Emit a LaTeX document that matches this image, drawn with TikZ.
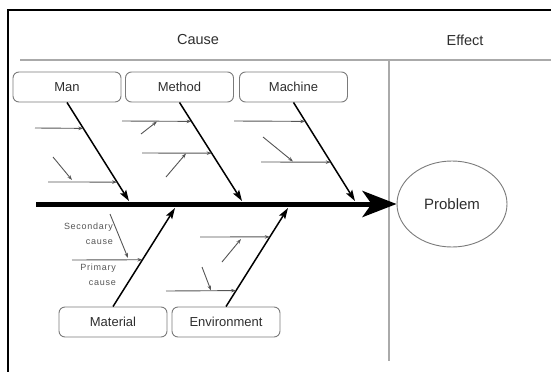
\documentclass[tikz,border=0pt]{standalone}
\usepackage{fontspec}
\setmainfont{Liberation Sans}
\newfontfamily\notefont[LetterSpace=8]{Liberation Sans}
\usetikzlibrary{arrows.meta,calc,shapes.geometric}
\definecolor{inkgray}{HTML}{2E2E2E}
\definecolor{rulegray}{HTML}{AAAAAA}
\definecolor{boxgray}{HTML}{7A7A7A}
\definecolor{subgray}{HTML}{555555}
\tikzset{
  header/.style={font=\fontsize{14.5}{17}\selectfont, text=inkgray},
  catbox/.style={draw=boxgray, line width=0.9pt, rounded corners=6pt,
    minimum width=108pt, minimum height=30pt, inner sep=0pt,
    font=\fontsize{13}{15}\selectfont, text=inkgray},
  bone/.style={draw=black, line width=1.5pt, -{Stealth[length=11pt,width=7pt,inset=2pt]}},
  subarrow/.style={draw=subgray, line width=0.9pt, -{Stealth[length=5pt,width=3.5pt]}},
  note/.style={font=\notefont\fontsize{9}{15}\selectfont, text=subgray, align=right, inner sep=0pt},
}
\begin{document}
\begin{tikzpicture}[x=1pt,y=-1pt]
\useasboundingbox (0,0) rectangle (551,372);

% outer frame
\draw[line width=2pt] (551,10) -- (8,10) -- (8,372);

% header rule and cause/effect divider
\draw[rulegray, line width=1.4pt] (20,60) -- (551,60);
\draw[rulegray, line width=1.4pt] (389,60) -- (389,361);
\node[header] (cause) at (198,40) {Cause};
\node[header] (effect) at (465,40) {Effect};

% effect
\node[draw=boxgray, line width=0.9pt, ellipse, minimum width=110pt, minimum height=86pt,
      inner sep=0pt, font=\fontsize{15}{17}\selectfont, text=inkgray] (problem) at (452,204) {Problem};

% spine
\coordinate (tail) at (36,204);
\draw[line width=5pt, -{Stealth[length=34pt,width=26pt,inset=9pt]}] (tail) -- (problem.west);

% category boxes
\node[catbox] (man) at (67,87) {Man};
\node[catbox] (method) at (179.5,87) {Method};
\node[catbox] (machine) at (293.5,87) {Machine};
\node[catbox] (material) at (113,322) {Material};
\node[catbox] (environment) at (226,322) {Environment};

% where the bones meet the spine
\coordinate (manT) at (129,201);
\coordinate (methodT) at (242,201);
\coordinate (machineT) at (355,201);
\coordinate (materialT) at (175,208);
\coordinate (environmentT) at (288,208);

% main bones
\draw[bone] (man.south) -- (manT);
\draw[bone] (method.south) -- (methodT);
\draw[bone] (machine.south) -- (machineT);
\draw[bone] (material.north) -- (materialT);
\draw[bone] (environment.north) -- (environmentT);

% man causes
\coordinate (m1) at (35,128);
\coordinate (m2) at (48,182);
\coordinate (m2s) at (53,157);
\draw[subarrow] (m1) -- ($(man.south)!0.263!(manT)$);
\draw[subarrow] (m2) -- ($(man.south)!0.808!(manT)$);
\draw[subarrow] (m2s) -- (72,180);

% method causes
\coordinate (d1) at (122,121);
\coordinate (d2) at (142,153);
\draw[subarrow] (d1) -- ($(method.south)!0.192!(methodT)$);
\draw[subarrow] (d2) -- ($(method.south)!0.515!(methodT)$);
\draw[subarrow] (141,134) -- (157,121.5);
\draw[subarrow] (166,177) -- (186,153.5);

% machine causes
\coordinate (c1) at (234,121);
\coordinate (c2) at (261,162);
\draw[subarrow] (c1) -- ($(machine.south)!0.192!(machineT)$);
\draw[subarrow] (c2) -- ($(machine.south)!0.606!(machineT)$);
\draw[subarrow] (263,137) -- (293,161.5);

% material causes with their labels
\coordinate (t1) at (72,260);
\draw[subarrow] (t1) -- ($(material.north)!0.475!(materialT)$);
\draw[subarrow] (110,214) -- (128,258);
\node[note, anchor=north east] (secondary) at (113,223) {Secondary\\cause};
\node[note, anchor=north east] (primary) at (116,264) {Primary\\cause};

% environment causes
\coordinate (e1) at (200,237);
\coordinate (e2) at (166,291);
\draw[subarrow] (e1) -- ($(environment.north)!0.707!(environmentT)$);
\draw[subarrow] (e2) -- ($(environment.north)!0.162!(environmentT)$);
\draw[subarrow] (222,262) -- (241,239);
\draw[subarrow] (202,267) -- (211,290.5);
\end{tikzpicture}
\end{document}
